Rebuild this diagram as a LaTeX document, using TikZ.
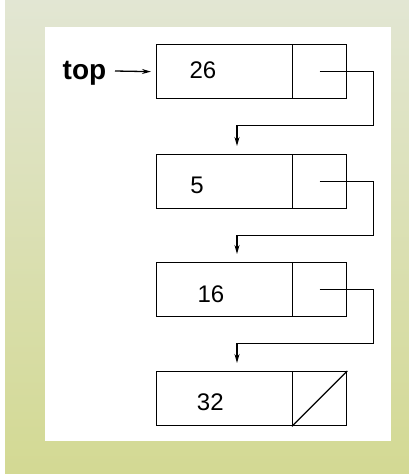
\documentclass[tikz,border=0pt]{standalone}
\usepackage{fontspec}
\setmainfont{Liberation Sans}
\usetikzlibrary{arrows.meta}
\definecolor{bgtop}{RGB}{226,230,211}
\definecolor{bgbot}{RGB}{211,217,147}
\begin{document}
\begin{tikzpicture}[x=1pt,y=-1pt,
  cellbox/.style={draw=black,line width=1.3pt,rectangle,minimum height=54pt,inner sep=0pt,anchor=north west},
  datacell/.style={cellbox,minimum width=136pt},
  ptrcell/.style={cellbox,minimum width=54pt},
  val/.style={inner sep=0pt,font=\fontsize{24}{28}\selectfont},
  ptr/.style={draw=black,line width=1.3pt,-{Stealth[length=9pt,width=5pt]}}]
\useasboundingbox (0,0) rectangle (409,474);
\fill[white] (0,0) rectangle (409,474);
\shade[top color=bgtop,bottom color=bgbot] (5,0) rectangle (409,474);
\fill[white] (45,27) rectangle (391,441);
% cells
\node[datacell] (d1) at (156,44) {};
\node[ptrcell]  (p1) at (292,44) {};
\node[datacell] (d2) at (156,154) {};
\node[ptrcell]  (p2) at (292,154) {};
\node[datacell] (d3) at (156,262) {};
\node[ptrcell]  (p3) at (292,262) {};
\node[datacell] (d4) at (156,371) {};
\node[ptrcell]  (p4) at (292,371) {};
% values
\node[val] (v1) at (203,70.5) {26};
\node[val] (v2) at (197,185.5) {5};
\node[val] (v3) at (211,293.8) {16};
\node[val] (v4) at (210.3,402.5) {32};
% top label
\node[inner sep=0pt,anchor=base,font=\fontsize{28}{32}\selectfont\bfseries] (top) at (84.5,79.3) {top};
\coordinate (ts) at (115,71);
\draw[ptr] (ts) -- ([xshift=-5pt]d1.west);
% arrow tips
\coordinate (t2) at (237,146);
\coordinate (t3) at (237,254);
\coordinate (t4) at (237,363);
\draw[ptr] (p1.center) -- ++(54,0) -- ++(0,54) -| (t2);
\draw[ptr] (p2.center) -- ++(54,0) -- ++(0,54) -| (t3);
\draw[ptr] (p3.center) -- ++(54,0) -- ++(0,54) -| (t4);
% null pointer
\draw[line width=1.3pt] (p4.south west) -- (p4.north east);
\end{tikzpicture}
\end{document}
